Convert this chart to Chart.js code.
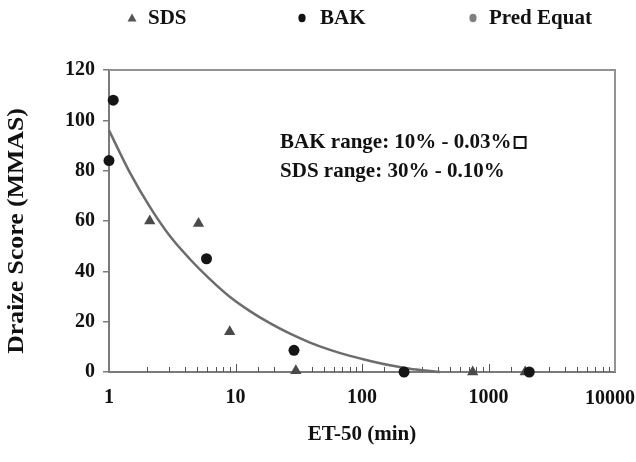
<!DOCTYPE html>
<html>
<head>
<meta charset="utf-8">
<script src="https://cdn.jsdelivr.net/npm/chart.js@4/dist/chart.umd.min.js"></script>
<style>
  html, body { margin: 0; padding: 0; background: #fff; }
  #wrap { width: 636px; height: 462px; }
</style>
</head>
<body>
<div id="wrap"><canvas id="chart" width="636" height="462"></canvas></div>
<script>
// values
const sdsX = [2.1, 5.1, 9.0, 30, 750, 1950];
const sdsY = [60, 59, 16, 0.5, 0, 0];
const bakX = [1.0, 1.08, 5.9, 29, 215, 2100];
const bakY = [84, 108, 45, 8.6, 0, 0];
const predX = [1.0, 1.47, 2.11, 3.03, 4.37, 6.3, 9.05, 13.0, 18.7, 27.0, 38.8, 55.9, 80.4, 116, 166, 239, 345, 414];
const predY = [96, 79, 65.5, 54, 44.8, 36.8, 29.8, 24.2, 19.4, 15.2, 11.7, 8.8, 6.4, 4.4, 2.7, 1.3, 0.4, 0];
const yTicks = [0, 20, 40, 60, 80, 100, 120];
const xDecades = [1, 10, 100, 1000, 10000];
const legendLabels = ["SDS", "BAK", "Pred Equat"];
const noteLines = ["BAK range: 10% - 0.03%", "SDS range: 30% - 0.10%"];
const yTitle = "Draize Score (MMAS)";

const FONT = "'Liberation Serif', 'Times New Roman', serif";

const toPoints = (xs, ys) => xs.map((x, i) => ({ x: x, y: ys[i] }));

const isDecade = v => Math.abs(Math.log10(v) - Math.round(Math.log10(v))) < 1e-9;

// frame on top/right, inward ticks along the x axis, notes and legend
const framePlugin = {
  id: "framePlugin",
  beforeDatasetsDraw(chart) {
    const { ctx, chartArea: a } = chart;
    const xs = chart.scales.x;
    ctx.save();
    ctx.strokeStyle = "#939393";
    ctx.lineWidth = 2;
    ctx.beginPath();
    ctx.moveTo(a.left, a.top);
    ctx.lineTo(a.right, a.top);
    ctx.lineTo(a.right, a.bottom);
    ctx.stroke();
    ctx.strokeStyle = "#555";
    ctx.lineWidth = 1;
    xs.ticks.forEach(t => {
      if (t.value <= 1 || t.value >= 10000) return;
      const px = Math.round(xs.getPixelForValue(t.value)) + 0.5;
      const len = isDecade(t.value) ? 8 : 5;
      ctx.beginPath();
      ctx.moveTo(px, a.bottom);
      ctx.lineTo(px, a.bottom - len);
      ctx.stroke();
    });
    ctx.restore();
  },
  afterDraw(chart) {
    const { ctx, chartArea: a } = chart;
    const xs = chart.scales.x;
    const ys = chart.scales.y;
    ctx.save();
    ctx.fillStyle = "#111";
    ctx.textBaseline = "middle";
    ctx.textAlign = "left";

    // note box
    ctx.font = "bold 21px " + FONT;
    const nx = xs.getPixelForValue(22.5);
    const n1 = ys.getPixelForValue(91);
    ctx.fillText(noteLines[0], nx, n1);
    ctx.fillText(noteLines[1], nx, ys.getPixelForValue(79.5));
    const bx = nx + ctx.measureText(noteLines[0]).width + 2;
    ctx.strokeStyle = "#111";
    ctx.lineWidth = 2;
    ctx.strokeRect(bx + 1, n1 - 6, 11, 11);

    // last x label kept inside the canvas
    ctx.textAlign = "right";
    ctx.font = "bold 20px " + FONT;
    const lastW = ctx.measureText("10000").width;
    const lx = Math.min(xs.getPixelForValue(10000) + lastW / 2, chart.width - 1);
    ctx.textBaseline = "top";
    ctx.fillText("10000", lx, a.bottom + 17);

    // y title, a little stretched along its length like the original
    ctx.save();
    ctx.translate(17, 231);
    ctx.rotate(-Math.PI / 2);
    ctx.scale(1.12, 1);
    ctx.textAlign = "center";
    ctx.textBaseline = "middle";
    ctx.font = "bold 23px " + FONT;
    ctx.fillText(yTitle, 0, 0);
    ctx.restore();

    // legend row
    ctx.textAlign = "left";
    ctx.textBaseline = "middle";
    const ly = 18;
    const items = [
      { x: 132, tx: 148, style: "triangle", color: "#555" },
      { x: 302, tx: 320, style: "circle", color: "#111" },
      { x: 473, tx: 489, style: "circle", color: "#808080" }
    ];
    ctx.font = "bold 21px " + FONT;
    items.forEach((it, i) => {
      ctx.fillStyle = it.color;
      ctx.beginPath();
      if (it.style === "triangle") {
        ctx.moveTo(it.x, ly - 4.5);
        ctx.lineTo(it.x + 4.5, ly + 3.5);
        ctx.lineTo(it.x - 4.5, ly + 3.5);
        ctx.closePath();
      } else {
        ctx.ellipse(it.x, ly, 3.6, 4.2, 0, 0, Math.PI * 2);
      }
      ctx.fill();
      ctx.fillStyle = "#111";
      ctx.fillText(legendLabels[i], it.tx, ly + 1);
    });
    ctx.restore();
  }
};

new Chart(document.getElementById("chart").getContext("2d"), {
  type: "scatter",
  data: {
    datasets: [
      {
        label: legendLabels[2],
        data: toPoints(predX, predY),
        showLine: true,
        borderColor: "#6c6c6c",
        borderWidth: 2.5,
        pointRadius: 0,
        cubicInterpolationMode: "monotone",
        clip: false,
        order: 3
      },
      {
        label: legendLabels[0],
        data: toPoints(sdsX, sdsY),
        pointStyle: "triangle",
        pointRadius: 6.5,
        backgroundColor: "#4a4a4a",
        borderColor: "#4a4a4a",
        borderWidth: 0,
        clip: false,
        order: 2
      },
      {
        label: legendLabels[1],
        data: toPoints(bakX, bakY),
        pointStyle: "circle",
        pointRadius: 5.5,
        backgroundColor: "#151515",
        borderColor: "#151515",
        borderWidth: 0,
        clip: false,
        order: 1
      }
    ]
  },
  options: {
    responsive: false,
    animation: false,
    layout: { padding: { top: 70, right: 21, left: 0, bottom: 0 } },
    plugins: {
      legend: { display: false },
      tooltip: { enabled: false }
    },
    scales: {
      x: {
        type: "logarithmic",
        min: 1,
        max: 10000,
        afterFit(scale) {
          scale.height = 90;
          scale.paddingLeft = 0;
          scale.paddingRight = 0;
        },
        grid: { display: false, drawTicks: false },
        border: { display: true, color: "#7a7a7a", width: 2 },
        ticks: {
          autoSkip: false,
          maxRotation: 0,
          padding: 14,
          color: "#111",
          font: { family: FONT, size: 20, weight: "bold" },
          callback: v => (xDecades.includes(v) && v < 10000 ? String(v) : "")
        },
        title: {
          display: true,
          text: "ET-50 (min)",
          color: "#111",
          font: { family: FONT, size: 21, weight: "bold" },
          padding: { top: 0, bottom: 15 }
        }
      },
      y: {
        min: 0,
        max: 120,
        afterBuildTicks(scale) {
          scale.ticks = yTicks.map(v => ({ value: v }));
        },
        afterFit(scale) {
          scale.width = 109;
        },
        grid: { drawOnChartArea: false, tickLength: 6, color: "#7a7a7a", lineWidth: 1.5 },
        border: { display: true, color: "#7a7a7a", width: 2 },
        ticks: {
          padding: 8,
          color: "#111",
          font: { family: FONT, size: 20, weight: "bold" }
        },
        title: { display: false }
      }
    }
  },
  plugins: [framePlugin]
});
</script>
</body>
</html>
